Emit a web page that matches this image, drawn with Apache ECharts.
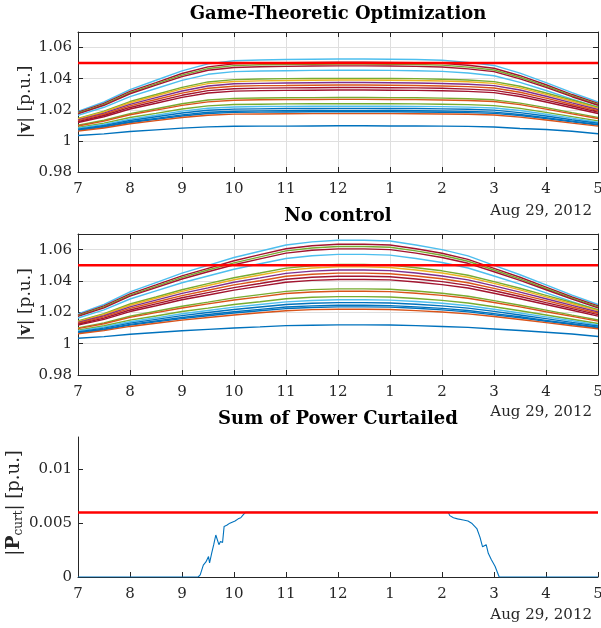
<!DOCTYPE html>
<html>
<head>
<meta charset="utf-8">
<script src="https://cdn.jsdelivr.net/npm/echarts@6/dist/echarts.min.js"></script>
<style>html,body{margin:0;padding:0;background:#fff;}#c{width:601px;height:628px;}</style>
</head>
<body>
<div id="c"></div>
<script>
// ---------- data ----------
const hours = [7,7.5,8,8.5,9,9.5,10,10.5,11,11.5,12,12.5,13,13.5,14,14.5,15,15.5,16,16.5,17];
const hourLabels = ['7','8','9','10','11','12','1','2','3','4','5'];
const yTicksV = ['0.98','1','1.02','1.04','1.06'];
const dateLabel = 'Aug 29, 2012';
const voltageLimit = 1.05;
const curtLimit = 0.006;

// No control: bus voltages
const nc01 = [1.019,1.025,1.033,1.039,1.045,1.050,1.055,1.059,1.063,1.065,1.066,1.066,1.0655,1.063,1.060,1.056,1.050,1.044,1.0375,1.031,1.025];
const nc02 = [1.0183,1.0241,1.0318,1.0375,1.0433,1.0481,1.0529,1.0568,1.0606,1.0625,1.0635,1.0635,1.063,1.0606,1.0577,1.0538,1.0481,1.0424,1.0361,1.0298,1.0241];
const nc03 = [1.0179,1.0235,1.031,1.0366,1.0423,1.047,1.0516,1.0554,1.0592,1.0611,1.062,1.062,1.0615,1.0592,1.0564,1.0526,1.047,1.0414,1.0352,1.0291,1.0235];
const nc04 = [1.0174,1.0229,1.0303,1.0358,1.0413,1.0459,1.0504,1.0541,1.0578,1.0596,1.0605,1.0605,1.06,1.0578,1.055,1.0513,1.0459,1.0404,1.0344,1.0284,1.0229];
const nc05 = [1.0164,1.0216,1.0285,1.0337,1.0389,1.0432,1.0475,1.051,1.0544,1.0561,1.057,1.057,1.0565,1.0544,1.0518,1.0483,1.0432,1.038,1.0324,1.0268,1.0216];
const nc06 = [1.0145,1.0191,1.0253,1.0298,1.0344,1.0383,1.0421,1.0451,1.0482,1.0497,1.0505,1.0505,1.0501,1.0485,1.0465,1.0437,1.0396,1.0354,1.0308,1.0263,1.0217];
const nc07 = [1.0141,1.0186,1.0245,1.029,1.0334,1.0371,1.0408,1.0438,1.0468,1.0483,1.049,1.049,1.0486,1.047,1.0451,1.0424,1.0385,1.0343,1.0299,1.0255,1.0211];
const nc08 = [1.0135,1.0178,1.0235,1.0278,1.0321,1.0356,1.0392,1.042,1.0449,1.0463,1.047,1.047,1.0466,1.0451,1.0432,1.0407,1.0369,1.0329,1.0287,1.0244,1.0202];
const nc09 = [1.013,1.0171,1.0225,1.0266,1.0307,1.0341,1.0375,1.0402,1.043,1.0443,1.045,1.045,1.0446,1.0432,1.0414,1.0389,1.0353,1.0315,1.0275,1.0234,1.0194];
const nc10 = [1.0124,1.0163,1.0215,1.0254,1.0293,1.0326,1.0358,1.0384,1.0411,1.0424,1.043,1.043,1.0427,1.0413,1.0396,1.0372,1.0338,1.0301,1.0262,1.0224,1.0185];
const nc11 = [1.0118,1.0155,1.0205,1.0242,1.028,1.0311,1.0342,1.0367,1.0392,1.0404,1.041,1.041,1.0407,1.0394,1.0377,1.0355,1.0322,1.0287,1.025,1.0213,1.0176];
const nc12 = [1.0101,1.0133,1.0175,1.0207,1.0239,1.0265,1.0292,1.0313,1.0334,1.0345,1.035,1.035,1.0347,1.0336,1.0322,1.0303,1.0275,1.0245,1.0214,1.0182,1.0151];
const nc13 = [1.0096,1.0127,1.0168,1.0198,1.0228,1.0254,1.0279,1.0299,1.032,1.033,1.0335,1.0335,1.0332,1.0322,1.0308,1.029,1.0263,1.0235,1.0204,1.0174,1.0144];
const nc14 = [1.0086,1.0114,1.015,1.0177,1.0205,1.0227,1.025,1.0268,1.0287,1.0296,1.03,1.03,1.0298,1.0288,1.0276,1.026,1.0236,1.021,1.0183,1.0156,1.0129];
const nc15 = [1.0081,1.0106,1.014,1.0165,1.0191,1.0212,1.0233,1.025,1.0267,1.0276,1.028,1.028,1.0278,1.0269,1.0258,1.0242,1.022,1.0196,1.0171,1.0146,1.012];
const nc16 = [1.0075,1.0099,1.0131,1.0155,1.0179,1.0199,1.0218,1.0234,1.025,1.0258,1.0262,1.0262,1.026,1.0252,1.0241,1.0227,1.0206,1.0183,1.016,1.0136,1.0113];
const nc17 = [1.0071,1.0093,1.0123,1.0145,1.0167,1.0186,1.0204,1.0219,1.0234,1.0241,1.0245,1.0245,1.0243,1.0235,1.0225,1.0212,1.0192,1.0172,1.0149,1.0127,1.0105];
const nc18 = [1.0068,1.0089,1.0118,1.0139,1.016,1.0178,1.0196,1.021,1.0224,1.0231,1.0235,1.0235,1.0233,1.0226,1.0216,1.0203,1.0184,1.0165,1.0143,1.0122,1.0101];
const nc19 = [1.0063,1.0083,1.011,1.013,1.015,1.0167,1.0183,1.0197,1.021,1.0217,1.022,1.022,1.0218,1.0211,1.0202,1.019,1.0173,1.0154,1.0134,1.0114,1.0095];
const nc20 = [1.0035,1.0045,1.006,1.0071,1.0082,1.0091,1.01,1.0107,1.0115,1.0118,1.012,1.012,1.0119,1.0115,1.011,1.0104,1.0094,1.0084,1.0073,1.0062,1.0046];

// Game-theoretic optimization: bus voltages
const gt01 = [1.019,1.025,1.033,1.039,1.045,1.0495,1.0515,1.052,1.0523,1.0525,1.0526,1.0526,1.0525,1.0523,1.0518,1.0505,1.0485,1.0436,1.0375,1.031,1.025];
const gt02 = [1.0183,1.0241,1.0318,1.0375,1.0433,1.0476,1.0495,1.05,1.0503,1.0505,1.0506,1.0506,1.0505,1.0503,1.0498,1.0486,1.0467,1.0419,1.0361,1.0298,1.0241];
const gt03 = [1.0179,1.0235,1.031,1.0366,1.0423,1.0465,1.0484,1.0489,1.0491,1.0493,1.0494,1.0494,1.0493,1.0491,1.0487,1.0474,1.0456,1.0409,1.0352,1.0291,1.0235];
const gt04 = [1.0174,1.0229,1.0303,1.0358,1.0413,1.0454,1.0472,1.0477,1.0479,1.0481,1.0482,1.0482,1.0481,1.0479,1.0475,1.0463,1.0445,1.0399,1.0344,1.0284,1.0229];
const gt05 = [1.0164,1.0216,1.0285,1.0337,1.0389,1.0428,1.0445,1.0449,1.0451,1.0453,1.0454,1.0454,1.0453,1.0451,1.0447,1.0436,1.0419,1.0376,1.0324,1.0268,1.0216];
const gt06 = [1.0145,1.0191,1.0253,1.0298,1.0344,1.0379,1.0394,1.0398,1.04,1.0401,1.0402,1.0402,1.0401,1.04,1.0396,1.0391,1.0381,1.0351,1.0308,1.0263,1.0217];
const gt07 = [1.0141,1.0186,1.0245,1.029,1.0334,1.0368,1.0382,1.0386,1.0388,1.039,1.0391,1.0391,1.039,1.0388,1.0385,1.038,1.037,1.0341,1.0299,1.0255,1.0211];
const gt08 = [1.0135,1.0178,1.0235,1.0278,1.0321,1.0353,1.0367,1.037,1.0372,1.0374,1.0375,1.0375,1.0374,1.0372,1.0369,1.0364,1.0355,1.0327,1.0287,1.0244,1.0202];
const gt09 = [1.013,1.0171,1.0225,1.0266,1.0307,1.0338,1.0351,1.0355,1.0356,1.0358,1.0359,1.0359,1.0358,1.0356,1.0353,1.0349,1.034,1.0313,1.0275,1.0234,1.0194];
const gt10 = [1.0124,1.0163,1.0215,1.0254,1.0293,1.0323,1.0335,1.0339,1.0341,1.0342,1.0343,1.0343,1.0342,1.0341,1.0338,1.0333,1.0325,1.0299,1.0262,1.0224,1.0185];
const gt11 = [1.0118,1.0155,1.0205,1.0242,1.028,1.0308,1.032,1.0323,1.0325,1.0326,1.0327,1.0327,1.0326,1.0325,1.0322,1.0318,1.031,1.0285,1.025,1.0213,1.0176];
const gt12 = [1.0101,1.0133,1.0175,1.0207,1.0239,1.0263,1.0273,1.0276,1.0277,1.0278,1.0279,1.0279,1.0278,1.0277,1.0275,1.0271,1.0264,1.0243,1.0214,1.0182,1.0151];
const gt13 = [1.0096,1.0127,1.0168,1.0198,1.0228,1.0251,1.0261,1.0264,1.0265,1.0266,1.0267,1.0267,1.0266,1.0265,1.0263,1.026,1.0253,1.0233,1.0204,1.0174,1.0144];
const gt14 = [1.0086,1.0114,1.015,1.0177,1.0205,1.0225,1.0234,1.0236,1.0238,1.0239,1.0239,1.0239,1.0239,1.0238,1.0236,1.0233,1.0227,1.0209,1.0183,1.0156,1.0129];
const gt15 = [1.0081,1.0106,1.014,1.0165,1.0191,1.021,1.0218,1.0221,1.0222,1.0223,1.0223,1.0223,1.0223,1.0222,1.022,1.0217,1.0211,1.0195,1.0171,1.0146,1.012];
const gt16 = [1.0075,1.0099,1.0131,1.0155,1.0179,1.0197,1.0204,1.0206,1.0208,1.0208,1.0209,1.0209,1.0208,1.0208,1.0206,1.0203,1.0198,1.0182,1.016,1.0136,1.0113];
const gt17 = [1.0071,1.0093,1.0123,1.0145,1.0167,1.0184,1.0191,1.0193,1.0194,1.0195,1.0195,1.0195,1.0195,1.0194,1.0192,1.019,1.0185,1.017,1.0149,1.0127,1.0105];
const gt18 = [1.0068,1.0089,1.0118,1.0139,1.016,1.0176,1.0183,1.0185,1.0186,1.0187,1.0187,1.0187,1.0187,1.0186,1.0184,1.0182,1.0177,1.0163,1.0143,1.0122,1.0101];
const gt19 = [1.0063,1.0083,1.011,1.013,1.015,1.0165,1.0172,1.0173,1.0174,1.0175,1.0175,1.0175,1.0175,1.0174,1.0173,1.0171,1.0166,1.0153,1.0134,1.0114,1.0095];
const gt20 = [1.0035,1.0045,1.006,1.0071,1.0082,1.009,1.0094,1.0095,1.0095,1.0096,1.0097,1.0097,1.0096,1.0096,1.0095,1.0093,1.0089,1.008,1.0073,1.0062,1.0046];

// Sum of power curtailed
const curtTimes  = [7,9.31,9.35,9.41,9.46,9.51,9.53,9.57,9.61,9.65,9.71,9.74,9.78,9.81,9.86,9.92,10.02,10.08,10.13,10.18,10.22,14.12,14.15,14.22,14.3,14.41,14.5,14.57,14.67,14.73,14.78,14.85,14.89,14.95,15.02,15.1,17];
const curtValues = [0,0,0.0002,0.0011,0.0014,0.0019,0.0013,0.0022,0.003,0.0039,0.003,0.0033,0.0032,0.0047,0.0048,0.005,0.0052,0.0054,0.0055,0.0058,0.006,0.006,0.0057,0.0055,0.0054,0.0053,0.0052,0.005,0.0045,0.0037,0.0028,0.003,0.0022,0.0016,0.001,0,0];

// ---------- styles ----------
const C = {blue:'#0072BD',orange:'#D95319',yellow:'#EDB120',purple:'#7E2F8E',green:'#77AC30',lblue:'#4DBEEE',dred:'#A2142F'};
const lineColors = [C.lblue,C.dred,C.green,C.dred,C.lblue,C.green,C.yellow,C.purple,C.orange,C.dred,C.dred,C.green,C.orange,C.green,C.lblue,C.blue,C.blue,C.blue,C.orange,C.blue];
const ncSeries = [nc01,nc02,nc03,nc04,nc05,nc06,nc07,nc08,nc09,nc10,nc11,nc12,nc13,nc14,nc15,nc16,nc17,nc18,nc19,nc20];
const gtSeries = [gt01,gt02,gt03,gt04,gt05,gt06,gt07,gt08,gt09,gt10,gt11,gt12,gt13,gt14,gt15,gt16,gt17,gt18,gt19,gt20];

const FONT = 'DejaVu Serif';
const AX = '#262626';
const GRIDC = '#dfdfdf';

const grids = [
  {left:78, right:3, top:32, height:140, outerBoundsMode:'none', containLabel:false},
  {left:78, right:3, top:234, height:141, outerBoundsMode:'none', containLabel:false},
  {left:78, right:3, top:437, height:140, outerBoundsMode:'none', containLabel:false}
];

function xBottom(gi, showSplit){
  return {type:'value', gridIndex:gi, min:7, max:17, interval:1, position:'bottom',
    axisLine:{show:true, onZero:false, lineStyle:{color:AX, width:1}},
    axisTick:{show:true, inside:true, length:5, lineStyle:{color:AX}},
    axisLabel:{show:true, margin:10, color:AX, fontFamily:FONT, fontSize:15,
      formatter:v => hourLabels[Math.round(v-7)] ?? ''},
    splitLine:{show:showSplit, lineStyle:{color:GRIDC, width:1}}};
}
function xTop(gi){
  return {type:'value', gridIndex:gi, min:7, max:17, interval:1, position:'top',
    axisLine:{show:true, onZero:false, lineStyle:{color:AX, width:1}},
    axisTick:{show:true, inside:true, length:5, lineStyle:{color:AX}},
    axisLabel:{show:false}, splitLine:{show:false}};
}
function yLeftV(gi){
  return {type:'value', gridIndex:gi, min:0.98, max:1.07, interval:0.02, position:'left',
    axisLine:{show:true, onZero:false, lineStyle:{color:AX, width:1}},
    axisTick:{show:true, inside:true, length:5, lineStyle:{color:AX}},
    axisLabel:{show:true, margin:6, color:AX, fontFamily:FONT, fontSize:15, showMaxLabel:false,
      formatter:v => { const i = Math.round((v-0.98)/0.02); return (Math.abs(v-(0.98+0.02*i))<1e-6 && yTicksV[i]) ? yTicksV[i] : ''; }},
    splitLine:{show:true, lineStyle:{color:GRIDC, width:1}},
    name:'{n||}{b|v}{n|| [p.u.]}', nameLocation:'middle', nameRotate:90, nameGap:44, nameMoveOverlap:false,
    nameTextStyle:{fontFamily:FONT, fontSize:17, color:AX,
      rich:{n:{fontFamily:FONT, fontSize:17, color:AX}, b:{fontFamily:FONT, fontSize:17, fontWeight:'bold', color:AX}}}};
}
function yRight(gi){
  return {type:'value', gridIndex:gi, min:0.98, max:1.07, interval:0.02, position:'right',
    axisLine:{show:true, onZero:false, lineStyle:{color:AX, width:1}},
    axisTick:{show:true, inside:true, length:5, lineStyle:{color:AX}},
    axisLabel:{show:false}, splitLine:{show:false}};
}

const xAxis = [xBottom(0,true), xBottom(1,true), xBottom(2,false), xTop(0), xTop(1)];
const yAxis = [yLeftV(0), yLeftV(1),
  {type:'value', gridIndex:2, min:0, max:0.013, interval:0.005, position:'left',
    axisLine:{show:true, onZero:false, lineStyle:{color:AX, width:1}},
    axisTick:{show:true, inside:true, length:5, lineStyle:{color:AX}, customValues:[0,0.005,0.01]},
    axisLabel:{show:true, margin:6, color:AX, fontFamily:FONT, fontSize:15, customValues:[0,0.005,0.01],
      formatter:v => String(+v.toFixed(4))},
    splitLine:{show:false},
    name:'{n||}{b|P}{s|curt}{n|| [p.u.]}', nameLocation:'middle', nameRotate:90, nameGap:53, nameMoveOverlap:false,
    nameTextStyle:{fontFamily:FONT, fontSize:18, color:AX, padding:[0,0,0,8],
      rich:{n:{fontFamily:FONT, fontSize:18, color:AX, lineHeight:22, verticalAlign:'middle'},
            b:{fontFamily:FONT, fontSize:19, fontWeight:'bold', color:AX, lineHeight:22, verticalAlign:'middle'},
            s:{fontFamily:FONT, fontSize:12, color:AX, lineHeight:22, verticalAlign:'bottom'}}}},
  yRight(0), yRight(1)];

const series = [];
function addLines(arrs, gi){
  arrs.forEach((vals, k) => {
    series.push({type:'line', xAxisIndex:gi, yAxisIndex:gi, showSymbol:false, symbol:'none',
      lineStyle:{color:lineColors[k], width:1.4}, data:hours.map((h,i)=>[h, vals[i]]),
      silent:true, animation:false, z:2});
  });
  series.push({type:'line', xAxisIndex:gi, yAxisIndex:gi, showSymbol:false, symbol:'none',
    lineStyle:{color:'#FF0000', width:2.5}, data:[[7,voltageLimit],[17,voltageLimit]],
    silent:true, animation:false, z:4});
}
addLines(gtSeries, 0);
addLines(ncSeries, 1);
series.push({type:'line', xAxisIndex:2, yAxisIndex:2, showSymbol:false, symbol:'none',
  lineStyle:{color:C.blue, width:1.1}, data:curtTimes.map((t,i)=>[t, curtValues[i]]),
  silent:true, animation:false, z:2});
series.push({type:'line', xAxisIndex:2, yAxisIndex:2, showSymbol:false, symbol:'none',
  lineStyle:{color:'#FF0000', width:2.5}, data:[[7,curtLimit],[17,curtLimit]],
  silent:true, animation:false, z:4});

const titleStyle = {fontFamily:FONT, fontSize:18, fontWeight:'bold', color:'#000'};
const title = [
  {text:'Game-Theoretic Optimization', left:338, top:5, textAlign:'center', textStyle:titleStyle, padding:0},
  {text:'No control', left:338, top:207, textAlign:'center', textStyle:titleStyle, padding:0},
  {text:'Sum of Power Curtailed', left:338, top:410, textAlign:'center', textStyle:titleStyle, padding:0}
];

const graphic = [212, 413, 616].map(y => ({type:'text', right:9, top:y-8,
  style:{text:dateLabel, fontFamily:FONT, fontSize:15, fill:AX}}));

const chart = echarts.init(document.getElementById('c'), null, {renderer:'canvas'});
chart.setOption({animation:false, backgroundColor:'#fff', title, grid:grids, xAxis, yAxis, series, graphic});
</script>
</body>
</html>
